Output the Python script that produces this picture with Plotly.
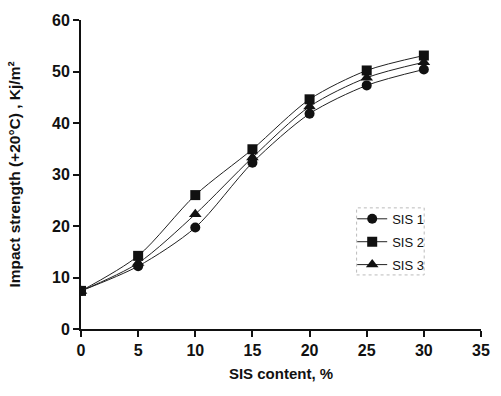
import plotly.graph_objects as go

x_vals = [0, 5, 10, 15, 20, 25, 30]
sis1 = [7.4, 12.2, 19.7, 32.3, 41.8, 47.3, 50.4]
sis2 = [7.4, 14.2, 26.0, 34.9, 44.6, 50.2, 53.1]
sis3 = [7.4, 12.8, 22.3, 33.3, 43.2, 48.8, 51.8]
names = ["SIS 1", "SIS 2", "SIS 3"]
symbols = ["circle", "square", "triangle-up"]
x_ticks = [0, 5, 10, 15, 20, 25, 30, 35]
y_ticks = [0, 10, 20, 30, 40, 50, 60]

FONT = "Liberation Sans, Arial, sans-serif"

fig = go.Figure()
for name, ys, sym in zip(names, [sis1, sis2, sis3], symbols):
    fig.add_trace(go.Scatter(
        x=x_vals, y=ys, name=name, legendgroup=name,
        mode="lines+markers",
        line=dict(color="#222", width=1, shape="spline", smoothing=0.8),
        marker=dict(symbol=sym, size=10 if sym != "triangle-up" else 11, color="#111"),
    ))

fig.update_layout(
    width=501, height=396,
    margin=dict(l=81, r=11, t=20, b=67),
    paper_bgcolor="white", plot_bgcolor="white",
    font=dict(family=FONT, color="#111"),
    showlegend=True,
    legend=dict(
        x=0.678, y=0.405, xanchor="left", yanchor="top",
        bgcolor="rgba(0,0,0,0)", borderwidth=0,
        font=dict(family=FONT, size=13, color="#111"),
        tracegroupgap=3,
    ),
    xaxis=dict(
        range=[0, 35], tickvals=x_ticks, ticktext=["<b>%d</b>" % v for v in x_ticks],
        showgrid=False, zeroline=False, showline=True, linecolor="#111", linewidth=2,
        ticks="outside", ticklen=6, tickwidth=2, tickcolor="#111",
        tickfont=dict(family=FONT, size=16, color="#111"),
        title=dict(text="<b>SIS content, %</b>", font=dict(family=FONT, size=15, color="#111"), standoff=10),
    ),
    yaxis=dict(
        range=[0, 60], tickvals=y_ticks, ticktext=["<b>%d</b>" % v for v in y_ticks],
        showgrid=False, zeroline=False, showline=True, linecolor="#111", linewidth=2,
        ticks="outside", ticklen=6, tickwidth=2, tickcolor="#111",
        tickfont=dict(family=FONT, size=16, color="#111"),
        title=dict(text="<b>Impact strength (+20°C) , Kj/m²</b>", font=dict(family=FONT, size=15.5, color="#111"), standoff=28),
    ),
    shapes=[dict(
        type="rect", xref="paper", yref="paper",
        x0=0.689, x1=0.858, y0=0.175, y1=0.392,
        line=dict(color="#bbb", width=1, dash="dot"),
    )],
)

fig.write_html("out.html")
